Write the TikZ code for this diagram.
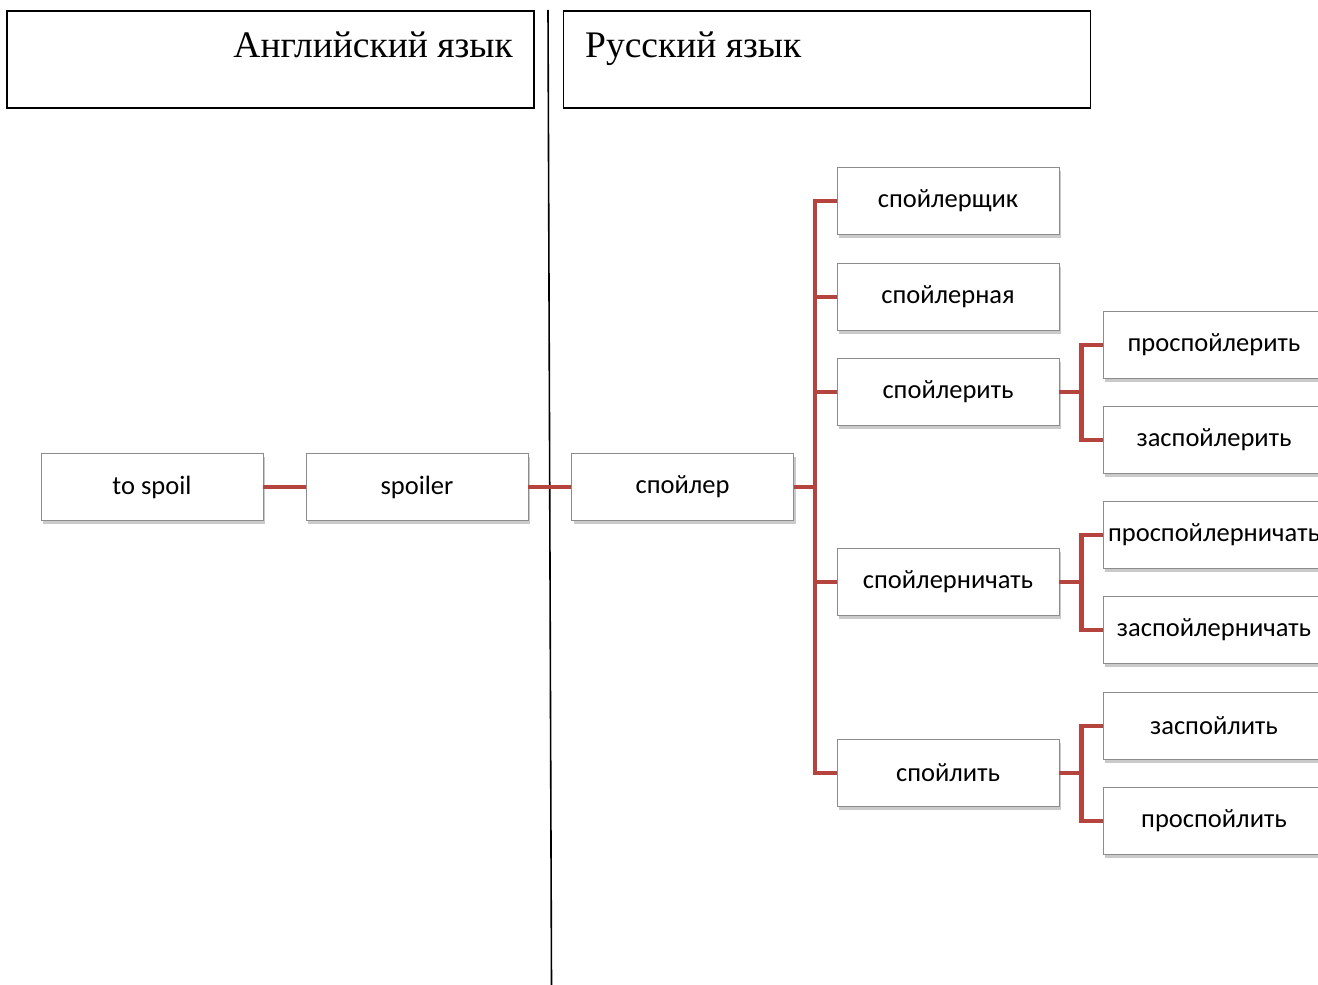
\documentclass[tikz,border=0pt]{standalone}
\usepackage{fontspec}
\setmainfont{Carlito}
\newfontfamily\headfont{Liberation Serif}
\usetikzlibrary{shadows}
\definecolor{conn}{HTML}{B5443F}
\definecolor{boxline}{HTML}{8C8C8C}
\tikzset{
  wbox/.style={draw=boxline, line width=0.8pt, fill=white, minimum width=222pt, minimum height=67pt,
    inner sep=0pt, font=\fontsize{26.5}{30}\selectfont,
    drop shadow={shadow xshift=2pt, shadow yshift=-3pt, opacity=0.35, fill=black!60}},
  conline/.style={draw=conn, line width=4.5pt},
  headbox/.style={draw=black, line width=1.3pt, minimum width=527pt, minimum height=97pt, inner sep=0pt},
  headtext/.style={font=\headfont\fontsize{37.5}{42}\selectfont, inner sep=0pt, anchor=base}
}
\begin{document}
\begin{tikzpicture}[x=1pt,y=-1pt]
\useasboundingbox (0,0) rectangle (1318,985);
\clip (0,0) rectangle (1318,985);
% headers
\node[headbox] (h1) at (270.5,59.5) {};
\node[headbox] (h2) at (827,59.5) {};
\node[headtext, anchor=base east] (t1) at (513,57) {Английский язык};
\node[headtext, anchor=base west] (t2) at (585,57) {Русский язык};
% divider
\coordinate (dtop) at (548,10);
\coordinate (dbot) at (551.5,985);
\draw[line width=1.6pt] (dtop) -- (dbot);
% boxes
\node[wbox] (a) at (152,487) {to spoil};
\node[wbox] (b) at (417,487) {spoiler};
\node[wbox] (c) at (682.5,487) {спойлер};
\node[wbox] (d1) at (948,201) {спойлерщик};
\node[wbox] (d2) at (948,297) {спойлерная};
\node[wbox] (d3) at (948,392) {спойлерить};
\node[wbox] (d4) at (948,582) {спойлерничать};
\node[wbox] (d5) at (948,773) {спойлить};
\node[wbox] (e1) at (1214,345) {проспойлерить};
\node[wbox] (e2) at (1214,440) {заспойлерить};
\node[wbox] (e3) at (1214,535) {проспойлерничать};
\node[wbox] (e4) at (1214,630) {заспойлерничать};
\node[wbox] (e5) at (1214,726) {заспойлить};
\node[wbox] (e6) at (1214,821) {проспойлить};
% connectors
\draw[conline] (a.east) -- (b.west);
\draw[conline] (b.east) -- (c.west);
\coordinate (tr) at (815,487);
\draw[conline] (c.east) -- (tr);
\foreach \n in {d1,d2,d3,d4,d5}{
  \draw[conline, line join=miter] (tr) |- (\n.west);
}
\foreach \p/\u/\v in {d3/e1/e2, d4/e3/e4, d5/e5/e6}{
  \coordinate (m\p) at ([xshift=22pt]\p.east);
  \draw[conline] (\p.east) -- (m\p);
  \draw[conline] (m\p) |- (\u.west);
  \draw[conline] (m\p) |- (\v.west);
}
\end{tikzpicture}
\end{document}
